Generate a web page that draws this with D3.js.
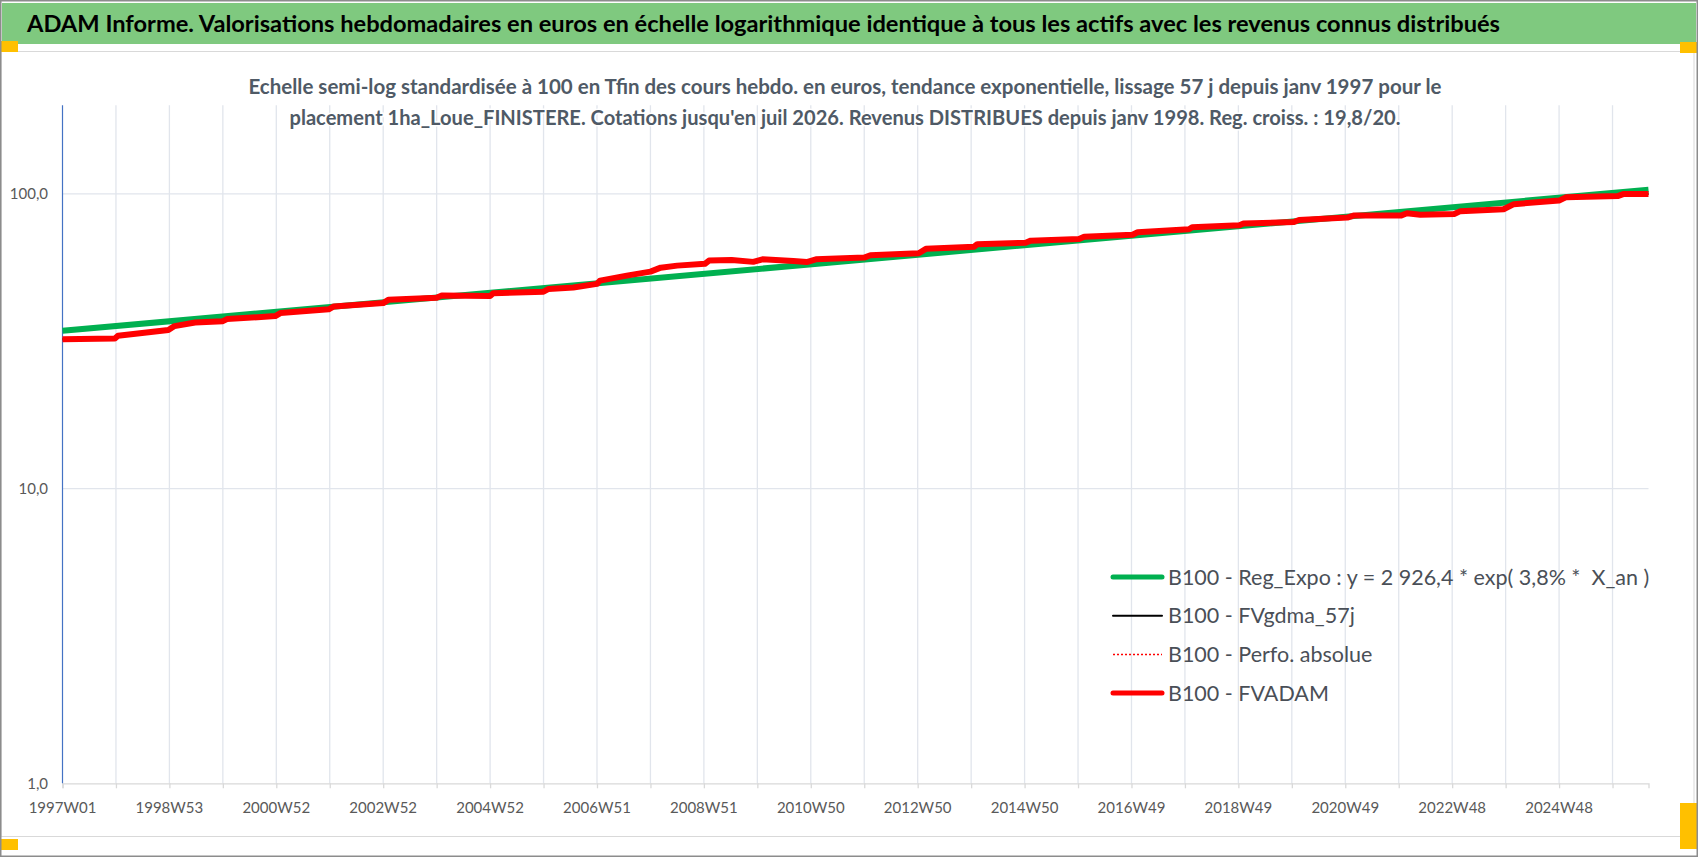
<!DOCTYPE html>
<html lang="fr">
<head>
<meta charset="utf-8">
<title>ADAM Informe</title>
<script src="https://cdn.jsdelivr.net/npm/d3@7"></script>
<style>
  html, body { margin: 0; padding: 0; background: #fff; }
  svg { display: block; font-family: Lato, "Open Sans", sans-serif; }
</style>
</head>
<body>
<div id="chart"></div>
<script>
// ---- données ----
const titleText = "ADAM Informe. Valorisations hebdomadaires en euros en échelle logarithmique identique à tous les actifs avec les revenus connus distribués";
const subtitleLines = [
  "Echelle semi-log standardisée à 100 en Tfin des cours hebdo. en euros, tendance exponentielle, lissage 57 j depuis janv 1997 pour le",
  "placement 1ha_Loue_FINISTERE. Cotations jusqu'en juil 2026. Revenus DISTRIBUES depuis janv 1998. Reg. croiss. : 19,8/20."
];

// axe des catégories : semaines depuis 1997W01
const weekCount = 1544;
const weekLabels = ["1997W01", "1998W53", "2000W52", "2002W52", "2004W52", "2006W51", "2008W51",
  "2010W50", "2012W50", "2014W50", "2016W49", "2018W49", "2020W49", "2022W48", "2024W48"];
const labelStep = 104;   // intervalle entre étiquettes (semaines)
const tickStep = 52;     // intervalle entre graduations (semaines)

const yTicks = [1, 10, 100];
const yMin = 1, yMax = 200;

// [index semaine, valeur base 100]
const regExpo = [[0, 34.3], [1543, 103.3]];
const fvadam = [
  [0, 32.1], [51, 32.3], [54, 33.0], [103, 34.5], [109, 35.6], [129, 36.6], [156, 37.0], [160, 37.6],
  [207, 38.5], [212, 39.4], [259, 40.6], [264, 41.5], [312, 42.6], [317, 43.7], [364, 44.4], [369, 45.2],
  [416, 45.0], [419, 46.0], [468, 46.6], [473, 47.6], [497, 48.1], [520, 49.5], [523, 50.8], [549, 52.8],
  [572, 54.5], [582, 56.2], [598, 57.1], [625, 57.9], [629, 59.4], [651, 59.7], [672, 58.8], [681, 60.0],
  [711, 59.2], [724, 58.7], [733, 60.0], [780, 60.8], [786, 61.9], [833, 62.9], [840, 65.1], [887, 66.2],
  [890, 67.5], [937, 68.3], [942, 69.4], [989, 70.3], [994, 71.6], [1041, 72.7], [1046, 74.1], [1096, 75.9],
  [1099, 77.1], [1145, 78.2], [1149, 79.3], [1198, 80.3], [1203, 81.6], [1250, 83.1], [1256, 84.4],
  [1302, 84.4], [1308, 86.0], [1321, 84.9], [1354, 85.5], [1360, 87.4], [1402, 88.7], [1412, 92.3],
  [1456, 94.9], [1463, 97.5], [1513, 98.3], [1519, 100.0], [1543, 100.0]
];
// la moyenne mobile et la perfo. absolue se confondent avec FVADAM à cette échelle
const fvgdma = fvadam;
const perfoAbs = fvadam;

const legendLabels = [
  "B100 - Reg_Expo : y = 2 926,4 * exp( 3,8% *  X_an )",
  "B100 - FVgdma_57j",
  "B100 - Perfo. absolue",
  "B100 - FVADAM"
];

// ---- mise en page ----
const W = 1698, H = 857;
const plot = { left: 62.5, right: 1648.5, bottom: 783.3 };

const svg = d3.select("#chart").append("svg")
    .attr("width", W)
    .attr("height", H);

// bandeau titre (cellule verte)
svg.append("rect")
    .attr("x", 2).attr("y", 3)
    .attr("width", W - 4).attr("height", 41)
    .attr("fill", "#7fc97f");
svg.append("text")
    .attr("x", 27).attr("y", 32)
    .attr("textLength", 1473)
    .attr("lengthAdjust", "spacingAndGlyphs")
    .style("font-size", "23px")
    .style("font-weight", "bold")
    .attr("fill", "#000")
    .text(titleText);

// cadre de la zone de graphique
svg.append("rect")
    .attr("x", 1).attr("y", 51.5)
    .attr("width", 1693).attr("height", 785)
    .attr("fill", "#fff")
    .attr("stroke", "#d9d9d9");

// poignées de sélection jaunes
const handles = [[0, 41, 18, 11], [1680, 42, 18, 11], [0, 839, 18, 11], [1680, 803, 18, 46]];
svg.selectAll("rect.handle")
    .data(handles)
    .enter().append("rect")
    .attr("class", "handle")
    .attr("x", d => d[0]).attr("y", d => d[1])
    .attr("width", d => d[2]).attr("height", d => d[3])
    .attr("fill", "#ffc000");

// bordure extérieure
svg.append("rect")
    .attr("x", 0.5).attr("y", 0.5)
    .attr("width", W - 1).attr("height", H - 1)
    .attr("fill", "none")
    .attr("stroke", "#8c8c8c")
    .attr("stroke-width", 2);

// échelles
const x = d3.scaleLinear().domain([0, weekCount - 1]).range([plot.left, plot.right]);
const y = d3.scaleLog().domain([yMin, yMax])
    .range([plot.bottom, plot.bottom - (Math.log10(yMax) - Math.log10(yMin)) * 294.7]);
const plotTop = y(yMax);

const frLocale = d3.formatLocale({ decimal: ",", thousands: " ", grouping: [3], currency: ["", " €"] });
const fmt = frLocale.format(".1f");

// quadrillage vertical (une graduation toutes les 52 semaines)
const tickIdx = d3.range(0, weekCount, tickStep);
svg.append("g")
    .selectAll("line")
    .data(tickIdx.slice(1))
    .enter().append("line")
    .attr("x1", d => x(d)).attr("x2", d => x(d))
    .attr("y1", plotTop).attr("y2", plot.bottom)
    .attr("stroke", "#e1e5ec")
    .attr("stroke-width", 1.3);

// quadrillage horizontal
svg.append("g")
    .selectAll("line")
    .data(yTicks.slice(1))
    .enter().append("line")
    .attr("x1", plot.left).attr("x2", plot.right)
    .attr("y1", d => y(d)).attr("y2", d => y(d))
    .attr("stroke", "#e1e5ec")
    .attr("stroke-width", 1.3);

// sous-titre (au-dessus du quadrillage)
svg.selectAll("text.subtitle")
    .data(subtitleLines)
    .enter().append("text")
    .attr("class", "subtitle")
    .attr("x", 845)
    .attr("y", (d, i) => 94 + i * 31)
    .attr("text-anchor", "middle")
    .attr("textLength", (d, i) => i === 0 ? 1193 : 1111)
    .attr("lengthAdjust", "spacingAndGlyphs")
    .style("font-size", "20px")
    .style("font-weight", "bold")
    .attr("fill", "#4f5a66")
    .attr("stroke", "#fff")
    .attr("stroke-width", 3)
    .attr("paint-order", "stroke")
    .text(d => d);

// axe X
const xAxis = svg.append("g")
    .attr("transform", `translate(0,${plot.bottom})`)
    .call(d3.axisBottom(x)
        .tickValues(tickIdx)
        .tickSize(5)
        .tickFormat(""));
xAxis.select(".domain").attr("stroke", "#d9d9d9").attr("stroke-width", 1.3);
xAxis.selectAll(".tick line").attr("stroke", "#d9d9d9").attr("stroke-width", 1.3);

svg.append("g")
    .selectAll("text")
    .data(weekLabels)
    .enter().append("text")
    .attr("x", (d, i) => x(i * labelStep))
    .attr("y", 813)
    .attr("text-anchor", "middle")
    .style("font-size", "15px")
    .attr("fill", "#595959")
    .text(d => d);

// axe Y (ligne bleue)
svg.append("line")
    .attr("x1", plot.left).attr("x2", plot.left)
    .attr("y1", plotTop).attr("y2", plot.bottom)
    .attr("stroke", "#4472c4")
    .attr("stroke-width", 1.2);

svg.append("g")
    .selectAll("text")
    .data(yTicks)
    .enter().append("text")
    .attr("x", 48)
    .attr("y", d => y(d))
    .attr("dy", "0.35em")
    .attr("text-anchor", "end")
    .style("font-size", "15px")
    .attr("fill", "#595959")
    .text(d => fmt(d));

// séries
const line = d3.line()
    .x(d => x(d[0]))
    .y(d => y(d[1]));

const seriesStyles = [
  { data: regExpo, color: "#00b050", width: 6, dash: null },
  { data: fvgdma, color: "#000000", width: 2, dash: null },
  { data: perfoAbs, color: "#ff0000", width: 1.5, dash: "2,2" },
  { data: fvadam, color: "#ff0000", width: 6, dash: null }
];

svg.append("g")
    .selectAll("path")
    .data(seriesStyles)
    .enter().append("path")
    .attr("d", d => line(d.data))
    .attr("fill", "none")
    .attr("stroke", d => d.color)
    .attr("stroke-width", d => d.width)
    .attr("stroke-dasharray", d => d.dash)
    .attr("stroke-linejoin", "round");

// légende
const legend = svg.append("g").attr("transform", "translate(1113,577)");
const rows = legend.selectAll("g")
    .data(seriesStyles.map((s, i) => ({ ...s, label: legendLabels[i] })))
    .enter().append("g")
    .attr("transform", (d, i) => `translate(0,${i * 38.7})`);
rows.append("line")
    .attr("x1", 0).attr("x2", 49)
    .attr("stroke", d => d.color)
    .attr("stroke-width", d => d.width === 6 ? 5 : d.width)
    .attr("stroke-dasharray", d => d.dash)
    .attr("stroke-linecap", d => d.dash ? "butt" : "round");
rows.append("text")
    .attr("x", 55)
    .attr("dy", "0.35em")
    .style("font-size", "21.5px")
    .style("white-space", "pre")
    .attr("fill", "#4a4f57")
    .text(d => d.label);
</script>
</body>
</html>
